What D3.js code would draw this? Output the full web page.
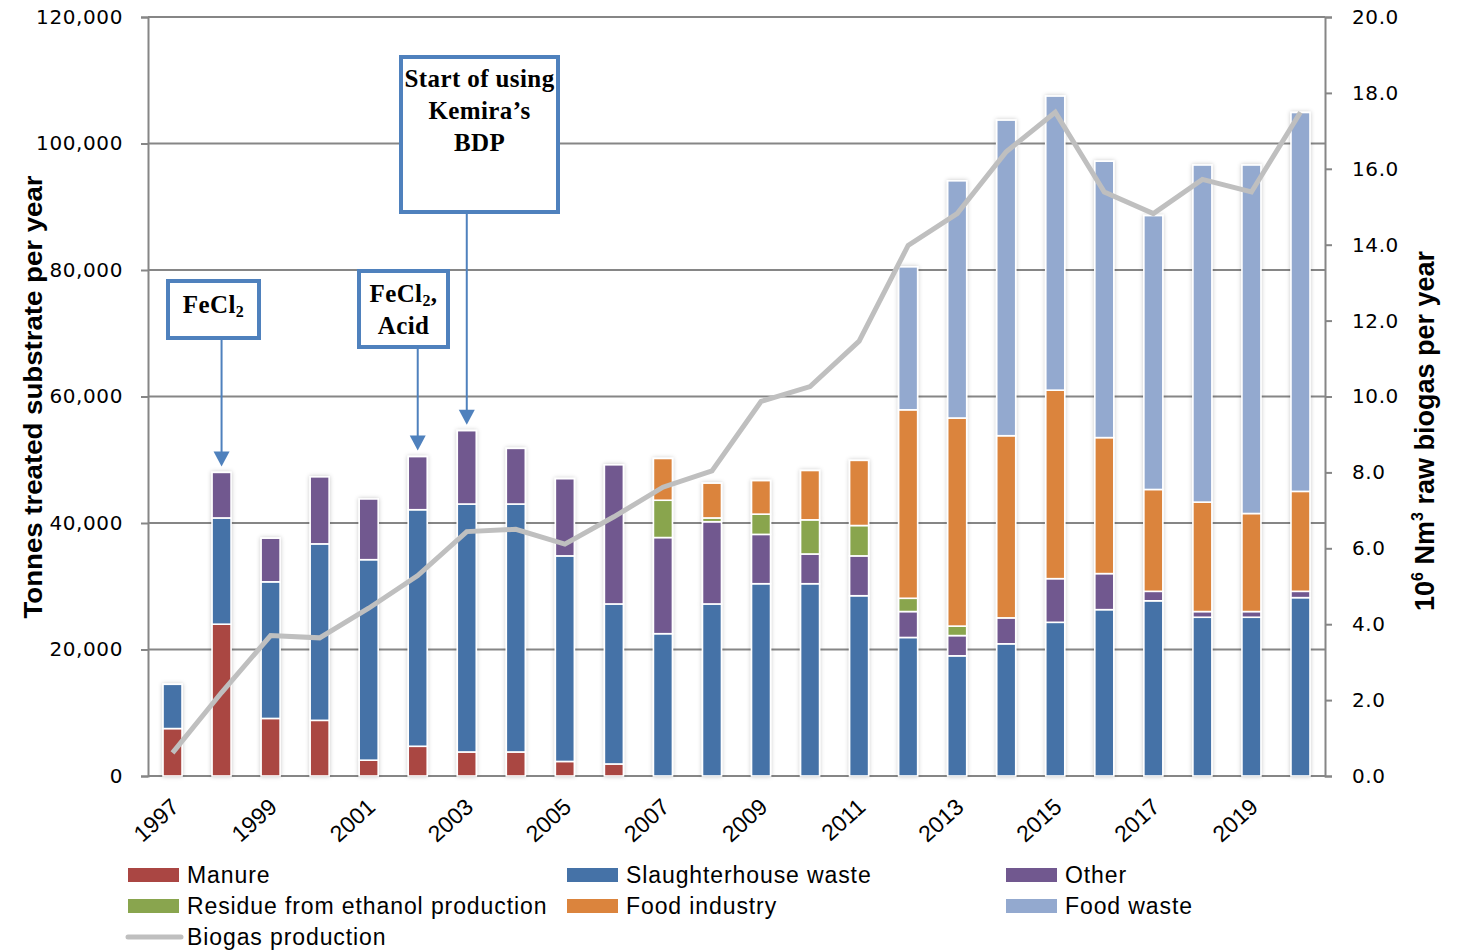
<!DOCTYPE html>
<html>
<head>
<meta charset="utf-8">
<title>Substrate and biogas</title>
<script src="https://cdn.jsdelivr.net/npm/d3@7"></script>
<style>
    body{ margin:0; background:#fff; }
    .tick text{ font-family:"DejaVu Sans", Verdana, sans-serif; font-size:20px; fill:#000; }
    .narrow{ font-family:"Liberation Sans Narrow","Arial Narrow","Liberation Sans",sans-serif; }
    .box text{ font-family:"Liberation Serif","Times New Roman",serif; font-weight:bold; font-size:25px; letter-spacing:0.4px; }
</style>
</head>
<body>
<svg id="chart" width="1466" height="951"></svg>
<script>
// ---- data (tonnes / 10^6 Nm3) ----
var years = [1997,1998,1999,2000,2001,2002,2003,2004,2005,2006,2007,2008,
             2009,2010,2011,2012,2013,2014,2015,2016,2017,2018,2019,2020];
var manure    = [7500,24000,9100,8800,2500,4700,3800,3800,2300,1900,0,0,0,0,0,0,0,0,0,0,0,0,0,0];
var slaughter = [7000,16800,21600,27900,31700,37400,39200,39200,32500,25300,22500,27200,
                 30400,30400,28500,21900,19000,20900,24300,26300,27700,25100,25100,28200];
var other     = [0,7200,6900,10600,9600,8400,11600,8800,12200,22000,15200,13000,
                 7800,4700,6300,4100,3200,4100,6900,5700,1500,900,900,1000];
var residue   = [0,0,0,0,0,0,0,0,0,0,5900,600,3200,5400,4800,2100,1500,0,0,0,0,0,0,0];
var foodInd   = [0,0,0,0,0,0,0,0,0,0,6600,5500,5300,7800,10300,29800,32900,28800,29800,
                 21500,16100,17300,15500,15800];
var foodWaste = [0,0,0,0,0,0,0,0,0,0,0,0,0,0,0,22600,37500,49900,46500,43700,43300,53300,55100,59900];
var biogas    = [0.61,2.2,3.70,3.64,4.42,5.28,6.44,6.50,6.11,6.83,7.61,8.04,
                 9.87,10.26,11.46,13.98,14.82,16.45,17.49,15.39,14.82,15.72,15.39,17.49];

var seriesNames = ["Manure","Slaughterhouse waste","Other","Residue from ethanol production","Food industry","Food waste"];
var seriesKeys  = ["manure","slaughter","other","residue","foodInd","foodWaste"];
var colors      = ["#AA4643","#4572A7","#71588F","#89A54E","#DB843D","#93A9CF"];
var lineColor   = "#BFBFBF";
var leftTicks   = [0,20000,40000,60000,80000,100000,120000];
var rightTicks  = [0,2,4,6,8,10,12,14,16,18,20];

// table for the stack
var table = years.map(function(y,i){
    return {year:y, manure:manure[i], slaughter:slaughter[i], other:other[i],
            residue:residue[i], foodInd:foodInd[i], foodWaste:foodWaste[i]};
});

var svg = d3.select("#chart");
var plotL = 148, plotR = 1325, plotT = 17, plotB = 776;
var gridColor = "#868686";

var x = d3.scaleBand().domain(years).range([plotL,plotR]).padding(0);
var barW = 19;
var y  = d3.scaleLinear().domain([0,120000]).range([plotB,plotT]);
var y2 = d3.scaleLinear().domain([0,20]).range([plotB,plotT]);
function cx(yr){ return x(yr) + x.bandwidth()/2; }

var defs = svg.append("defs");
var f = defs.append("filter").attr("id","shadow").attr("x","-50%").attr("y","-10%").attr("width","200%").attr("height","120%");
f.append("feDropShadow").attr("dx",0).attr("dy",0).attr("stdDeviation",2)
 .attr("flood-color","#000").attr("flood-opacity",0.22);

// gridlines
svg.append("g").selectAll("line").data(leftTicks).enter().append("line")
   .attr("x1",plotL).attr("x2",plotR)
   .attr("y1",function(d){return y(d);}).attr("y2",function(d){return y(d);})
   .attr("stroke",gridColor).attr("stroke-width",2);

// axes
var axL = svg.append("g").attr("transform","translate("+plotL+",0)")
   .call(d3.axisLeft(y).tickValues(leftTicks).tickFormat(d3.format(",")).tickSize(7).tickPadding(18));
var axR = svg.append("g").attr("transform","translate("+plotR+",0)")
   .call(d3.axisRight(y2).tickValues(rightTicks).tickFormat(d3.format(".1f")).tickSize(7).tickPadding(20));
[axL,axR].forEach(function(a){
    a.select(".domain").attr("stroke",gridColor).attr("stroke-width",2);
    a.selectAll(".tick line").attr("stroke",gridColor).attr("stroke-width",2);
    a.selectAll(".tick text").attr("letter-spacing","0.6px");
});

// stacked bars
var stack = d3.stack().keys(seriesKeys)(table);
var layers = svg.append("g").attr("filter","url(#shadow)").selectAll("g").data(stack).enter().append("g")
   .attr("fill",function(d,i){return colors[i];});
layers.selectAll("rect").data(function(d){return d.filter(function(s){return s[1]-s[0]>0;});}).enter().append("rect")
   .attr("x",function(d){return cx(d.data.year)-barW/2;})
   .attr("width",barW)
   .attr("y",function(d){return y(d[1]);})
   .attr("height",function(d){return y(d[0])-y(d[1]);})
   .attr("stroke","#fff").attr("stroke-width",1.6);

// biogas line
var line = d3.line().x(function(d,i){return cx(years[i]);}).y(function(d){return y2(d);});
svg.append("path").datum(biogas).attr("d",line).attr("fill","none")
   .attr("stroke",lineColor).attr("stroke-width",5).attr("stroke-linejoin","miter");

// x labels (every second year)
svg.append("g").selectAll("text").data(years.filter(function(d,i){return i%2===0;})).enter().append("text")
   .attr("class","narrow")
   .attr("transform",function(d){return "translate("+(cx(d)+8)+",809) rotate(-42)";})
   .attr("text-anchor","end").attr("font-size",23).text(function(d){return d;});

// axis titles
svg.append("text").attr("class","narrow").attr("font-weight","bold").attr("font-size",25)
   .attr("text-anchor","middle").attr("transform","translate(42,397) rotate(-90)")
   .attr("textLength",443).attr("lengthAdjust","spacingAndGlyphs")
   .text("Tonnes treated substrate per year");
var rt = svg.append("text").attr("class","narrow").attr("font-weight","bold").attr("font-size",27)
   .attr("text-anchor","middle").attr("transform","translate(1434,431) rotate(-90)");
rt.append("tspan").text("10");
rt.append("tspan").attr("font-size",16).attr("dy",-11).text("6");
rt.append("tspan").attr("dy",11).text(" Nm");
rt.append("tspan").attr("font-size",16).attr("dy",-11).text("3");
rt.append("tspan").attr("dy",11).text(" raw biogas per year");

// annotation boxes
var boxColor = "#4F81BD";
var notes = [
    {year:1998, x0:168, y0:281, w:91, h:57, lines:[["Fe","Cl","2",""]], base:[313]},
    {year:2002, x0:359, y0:271, w:89, h:76, lines:[["Fe","Cl","2",","],["Acid"]], base:[302,334]},
    {year:2003, x0:401, y0:57,  w:157,h:155,lines:[["Start of using"],["Kemira\u2019s"],["BDP"]], base:[87,119,151]}
];
var tot = years.map(function(d,i){return manure[i]+slaughter[i]+other[i]+residue[i]+foodInd[i]+foodWaste[i];});
notes.forEach(function(n){
    var g = svg.append("g").attr("class","box");
    var ax = cx(n.year), tip = y(tot[years.indexOf(n.year)]) - 6;
    g.append("line").attr("x1",ax).attr("x2",ax).attr("y1",n.y0+n.h).attr("y2",tip-12)
     .attr("stroke",boxColor).attr("stroke-width",2);
    g.append("path").attr("d","M"+(ax-8)+","+(tip-15)+"L"+(ax+8)+","+(tip-15)+"L"+ax+","+tip+"Z").attr("fill",boxColor);
    g.append("rect").attr("x",n.x0).attr("y",n.y0).attr("width",n.w).attr("height",n.h)
     .attr("fill","#fff").attr("stroke",boxColor).attr("stroke-width",4);
    n.lines.forEach(function(l,j){
        var t = g.append("text").attr("x",n.x0+n.w/2).attr("y",n.base[j]).attr("text-anchor","middle");
        if(l.length===1){ t.text(l[0]); }
        else{
            t.append("tspan").text(l[0]);
            t.append("tspan").text(l[1]);
            t.append("tspan").attr("font-size",16).attr("dy",4).text(l[2]);
            t.append("tspan").attr("dy",-4).text(l[3]);
        }
    });
});

// legend
var legItems = [
    {name:seriesNames[0],color:colors[0],col:0,row:0},
    {name:seriesNames[1],color:colors[1],col:1,row:0},
    {name:seriesNames[2],color:colors[2],col:2,row:0},
    {name:seriesNames[3],color:colors[3],col:0,row:1},
    {name:seriesNames[4],color:colors[4],col:1,row:1},
    {name:seriesNames[5],color:colors[5],col:2,row:1},
    {name:"Biogas production",color:lineColor,col:0,row:2,line:true}
];
var colX = [128,567,1006], rowY = [875,906,937];
var leg = svg.append("g").selectAll("g").data(legItems).enter().append("g")
   .attr("transform",function(d){return "translate("+colX[d.col]+","+rowY[d.row]+")";});
leg.each(function(d){
    var g = d3.select(this);
    if(d.line){
        g.append("line").attr("x1",0).attr("x2",53).attr("y1",0).attr("y2",0)
         .attr("stroke",d.color).attr("stroke-width",5).attr("stroke-linecap","round");
    } else {
        g.append("rect").attr("x",0).attr("y",-7).attr("width",51).attr("height",14).attr("fill",d.color);
    }
    g.append("text").attr("class","narrow").attr("x",59).attr("y",8).attr("font-size",23)
     .attr("letter-spacing","0.9px").text(d.name);
});
</script>
</body>
</html>
